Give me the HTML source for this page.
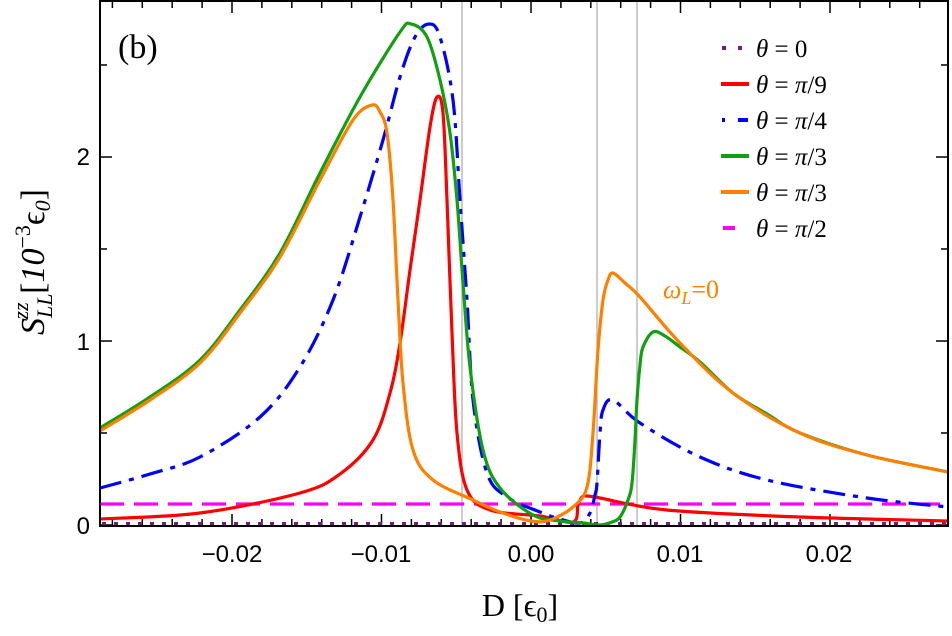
<!DOCTYPE html>
<html><head><meta charset="utf-8"><style>
body{margin:0;background:#fff}
svg{display:block}
.t{font-family:"Liberation Sans",sans-serif;font-size:24px}
.s{font-family:"Liberation Serif",serif}
</style></head><body>
<svg id="sv" width="952" height="636" viewBox="0 0 952 636" xmlns="http://www.w3.org/2000/svg">
<rect width="952" height="636" fill="#fff"/>
<g stroke="#aaa" stroke-width="1.2">
<line x1="462" y1="2" x2="462" y2="526"/>
<line x1="597" y1="2" x2="597" y2="526"/>
<line x1="637" y1="2" x2="637" y2="526"/>
</g>
<g id="ticks" stroke="#000" stroke-width="1.5"></g>
<g fill="none" stroke-width="3.2" stroke-linejoin="round" stroke-linecap="butt">
<line x1="100" y1="504" x2="948" y2="504" stroke="#ff00ff" stroke-dasharray="24,10"/>
<line x1="102" y1="524" x2="948" y2="524" stroke="#7a1a7a" stroke-width="4" stroke-dasharray="4,8"/>
<path id="red" stroke="#ff0000"/>
<path id="blue" stroke="#0000ff" stroke-dasharray="22,8,5,8"/>
<path id="green" stroke="#11a011"/>
<path id="orange" stroke="#ff8000"/>
</g>
<rect x="100" y="1" width="848" height="525" fill="none" stroke="#000" stroke-width="2"/>
<g class="t" text-anchor="middle">
<text x="232" y="562">−0.02</text><text x="381" y="562">−0.01</text>
<text x="531" y="562">0.00</text><text x="680" y="562">0.01</text><text x="829" y="562">0.02</text>
</g>
<g class="t" text-anchor="end">
<text x="90" y="534">0</text><text x="90" y="350">1</text><text x="90" y="165">2</text>
</g>
<text class="s" x="118" y="58" font-size="34">(b)</text>
<text class="s" x="520" y="616" font-size="32" text-anchor="middle">D [ϵ<tspan font-size="22" dy="6">0</tspan><tspan dy="-6">]</tspan></text>
<g transform="translate(44,262) rotate(-90)">
<text class="s" font-size="34" text-anchor="middle"><tspan font-style="italic">S</tspan><tspan font-size="22" font-style="italic" dy="8">LL</tspan><tspan font-size="22" font-style="italic" dx="-26" dy="-24">zz</tspan><tspan dy="16"> [</tspan><tspan font-style="italic">10</tspan><tspan font-size="22" dy="-14">−3</tspan><tspan dy="14">ϵ</tspan><tspan font-size="22" font-style="italic" dy="6">0</tspan><tspan dy="-6">]</tspan></text>
</g>
<text class="s" x="663" y="298" font-size="26" fill="#ff8000" font-style="italic">ω<tspan font-size="18" dy="6">L</tspan><tspan dy="-6" font-style="normal">=0</tspan></text>
<g class="s" font-size="25">
<line x1="722" y1="48" x2="744" y2="48" stroke="#7a1a7a" stroke-width="4" stroke-dasharray="4,12"/>
<line x1="721" y1="84" x2="749" y2="84" stroke="#f00" stroke-width="4"/>
<line x1="722" y1="120" x2="748" y2="120" stroke="#00f" stroke-width="4" stroke-dasharray="3,13,10,2"/>
<line x1="721" y1="156" x2="749" y2="156" stroke="#11a011" stroke-width="4"/>
<line x1="721" y1="192" x2="749" y2="192" stroke="#ff8000" stroke-width="4"/>
<line x1="723" y1="228" x2="735" y2="228" stroke="#f0f" stroke-width="4"/>
<text x="756" y="57"><tspan font-style="italic">θ</tspan> = 0</text>
<text x="756" y="93"><tspan font-style="italic">θ</tspan> = <tspan font-style="italic">π</tspan>/9</text>
<text x="756" y="129"><tspan font-style="italic">θ</tspan> = <tspan font-style="italic">π</tspan>/4</text>
<text x="756" y="165"><tspan font-style="italic">θ</tspan> = <tspan font-style="italic">π</tspan>/3</text>
<text x="756" y="201"><tspan font-style="italic">θ</tspan> = <tspan font-style="italic">π</tspan>/3</text>
<text x="756" y="237"><tspan font-style="italic">θ</tspan> = <tspan font-style="italic">π</tspan>/2</text>
</g>
</svg>
<script>
function cr(p){let d="M"+p[0][0]+","+p[0][1];for(let i=0;i<p.length-1;i++){const a=p[i-1]||p[i],b=p[i],c=p[i+1],e=p[i+2]||c;
const t=6;d+=" C"+(b[0]+(c[0]-a[0])/t).toFixed(1)+","+(b[1]+(c[1]-a[1])/t).toFixed(1)+" "+(c[0]-(e[0]-b[0])/t).toFixed(1)+","+(c[1]-(e[1]-b[1])/t).toFixed(1)+" "+c[0]+","+c[1];}return d;}
const S=(id,p)=>document.getElementById(id).setAttribute("d",cr(p));
S("green",[[100,428],[150,397],[200,360],[240,310],[280,253],[320,173],[360,97],[400,32],[411,24],[427,37],[440,80],[450,133],[457,200],[463,283],[470,367],[483,450],[500,488],[533,515],[560,521],[583,523],[600,525],[612,522],[620,517],[628,500],[632,483],[635,440],[637,400],[640,365],[643,347],[653,332],[665,336],[680,347],[700,362],[733,393],[767,414],[800,433],[867,455],[948,472]]);
S("orange",[[100,431],[150,400],[200,363],[240,313],[280,257],[320,180],[353,120],[372,105],[380,112],[387,133],[393,200],[398,300],[403,383],[413,450],[433,480],[473,500],[500,512],[531,521],[550,520],[573,507],[587,487],[593,433],[598,350],[603,300],[608,280],[613,273],[625,283],[640,297],[680,343],[733,393],[800,433],[867,455],[948,472]]);
S("blue",[[100,488],[150,474],[200,457],[260,417],[300,367],[333,300],[360,217],[383,140],[400,77],[415,37],[429,24],[440,37],[453,100],[460,200],[467,300],[473,400],[487,473],[507,497],[540,512],[560,519],[580,523],[590,513],[595,495],[597,483],[600,433],[603,410],[613,400],[640,423],[700,457],[767,480],[867,498],[948,507]]);
S("red",[[100,519],[200,513],[300,493],[340,474],[373,440],[390,393],[400,343],[410,270],[420,200],[430,127],[437,97],[443,113],[447,200],[452,333],[457,433],[467,490],[490,510],[540,516],[573,522],[578,505],[582,497],[587,496],[600,498],[667,510],[800,517],[948,521]]);
const g=document.getElementById("ticks");let h="";
for(let i=-14;i<=14;i++){const x=531+i*0.002*14950;if(x<101||x>947)continue;const L=(i%5==0)?12:7;h+=`<line x1="${x}" y1="526" x2="${x}" y2="${526-L}"/><line x1="${x}" y1="1" x2="${x}" y2="${1+L}"/>`;}
for(let v=0;v<=2.75;v+=0.5){const y=525-184*v;const L=(Math.abs(v-Math.round(v))<0.01)?12:7;h+=`<line x1="100" y1="${y}" x2="${100+L}" y2="${y}"/><line x1="948" y1="${y}" x2="${948-L}" y2="${y}"/>`;}
g.innerHTML=h;
</script>
</body></html>
